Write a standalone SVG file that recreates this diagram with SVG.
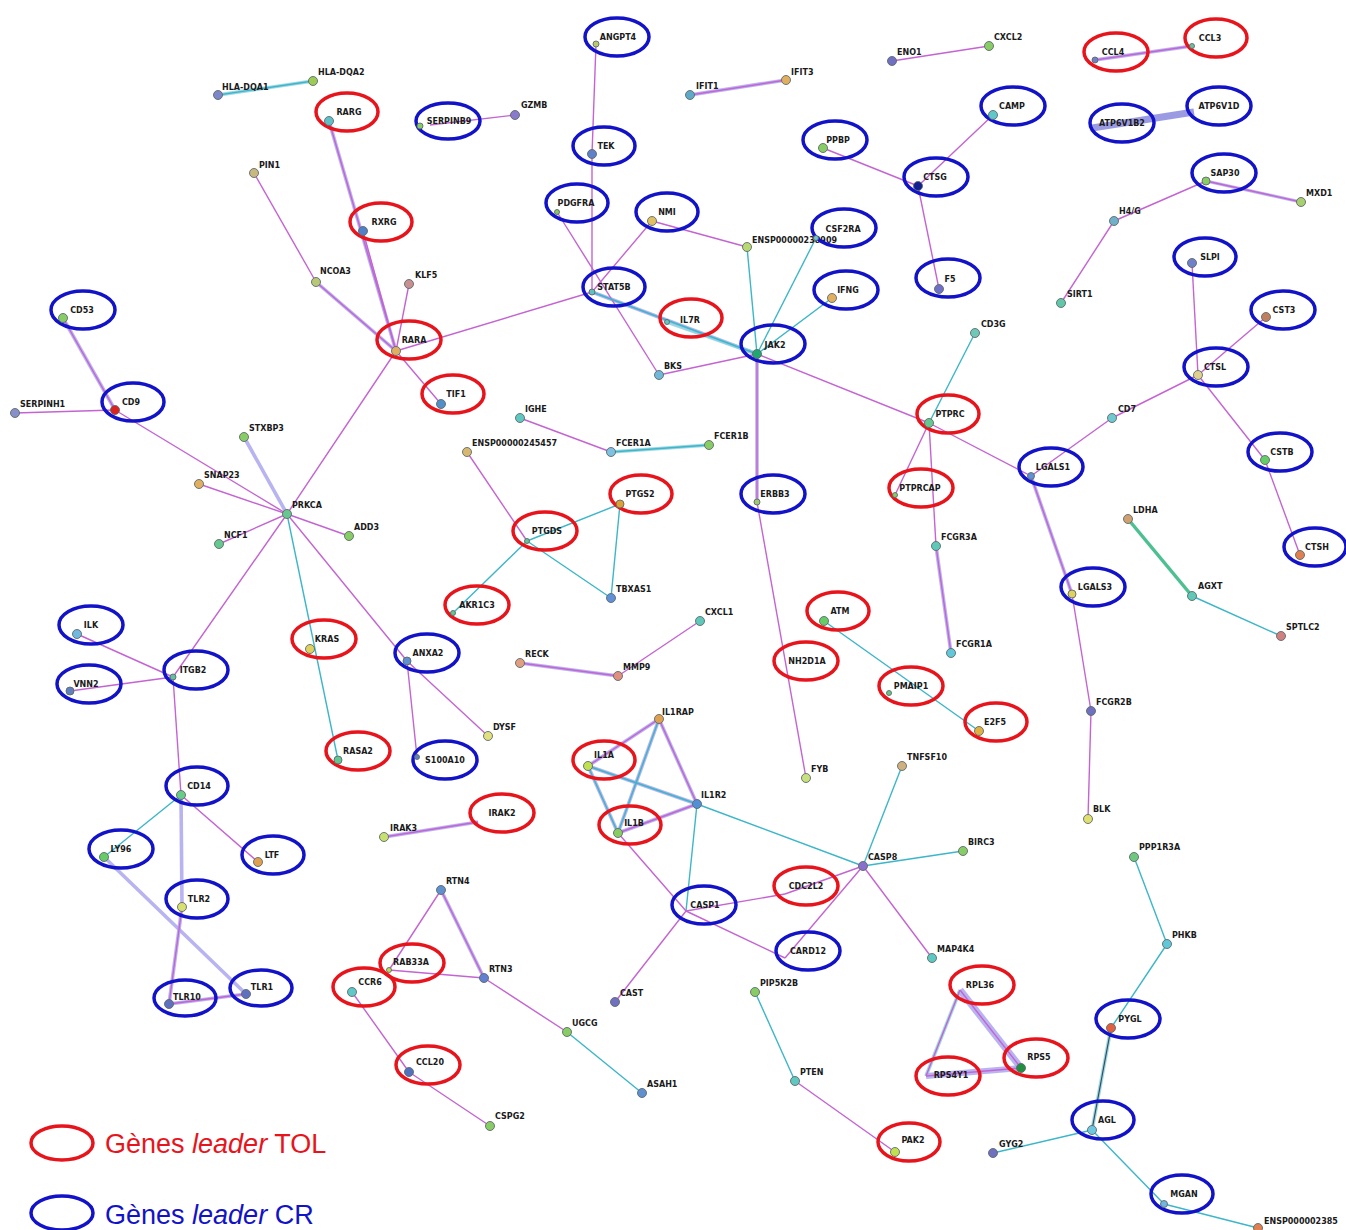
<svg xmlns="http://www.w3.org/2000/svg" width="1346" height="1230" viewBox="0 0 1346 1230">
<style>
  .m{stroke:#c464d2;stroke-width:1.4;fill:none}
  .t{stroke:#3cb6c8;stroke-width:1.4;fill:none}
  .w{stroke:#aca6ee;stroke-width:3.6;fill:none;opacity:0.85}
  .wt{stroke:#8fd0e0;stroke-width:3.6;fill:none;opacity:0.85}
  .g{stroke:#4cc090;stroke-width:3.5;fill:none}
  .tol{fill:none;stroke:#e8141c;stroke-width:3.5}
  .cr{fill:none;stroke:#1212c8;stroke-width:3.5}
  .d{stroke:#5d6a6a;stroke-width:0.9}
  text{font-family:"DejaVu Sans","Liberation Sans",sans-serif;font-weight:bold;font-size:8px;fill:#1a1a1a}
  .c{text-anchor:middle}
  .leg{font-family:"Liberation Sans",Arial,sans-serif;font-weight:normal;font-size:27px}
</style>
<rect width="1346" height="1230" fill="#ffffff"/>

<g id="connectors">
  <!-- wide backing strokes for multi-evidence links -->
  <line class="wt" x1="218" y1="95" x2="313" y2="81"/>
  <line class="w" x1="329" y1="121" x2="396" y2="351"/>
  <line class="w" x1="63" y1="318" x2="115" y2="410"/>
  <line class="w" x1="244" y1="437" x2="287" y2="514"/>
  <line class="w" x1="316" y1="282" x2="396" y2="351"/>
  <line class="w" x1="181" y1="795" x2="182" y2="907"/>
  <line class="w" x1="104" y1="857" x2="246" y2="994"/>
  <line class="w" x1="182" y1="907" x2="169" y2="1004"/>
  <line class="w" x1="169" y1="1004" x2="246" y2="994"/>
  <line class="w" x1="592" y1="292" x2="757" y2="354"/>
  <line class="wt" x1="667" y1="322" x2="757" y2="354"/>
  <line class="w" x1="757" y1="354" x2="757" y2="502"/>
  <line class="w" x1="1095" y1="60" x2="1192" y2="46"/>
  <line class="w" x1="1092" y1="128" x2="1194" y2="112" style="stroke-width:7;stroke:#8a8ade"/>
  <line class="w" x1="690" y1="95" x2="786" y2="80"/>
  <line class="w" x1="1206" y1="181" x2="1301" y2="202" style="stroke-width:3"/>
  <line class="w" x1="936" y1="546" x2="951" y2="653"/>
  <line class="w" x1="1031" y1="476" x2="1072" y2="594"/>
  <line class="wt" x1="611" y1="452" x2="709" y2="445"/>
  <line class="w" x1="520" y1="663" x2="618" y2="676"/>
  <line class="w" x1="384" y1="837" x2="478" y2="822"/>
  <line class="w" x1="441" y1="890" x2="484" y2="978"/>
  <line class="w" x1="659" y1="719" x2="588" y2="766"/>
  <line class="w" x1="659" y1="719" x2="618" y2="833"/>
  <line class="w" x1="659" y1="719" x2="697" y2="804"/>
  <line class="w" x1="588" y1="766" x2="697" y2="804"/>
  <line class="w" x1="588" y1="766" x2="618" y2="833"/>
  <line class="w" x1="618" y1="833" x2="697" y2="804"/>
  <line class="w" x1="960" y1="990" x2="1021" y2="1068" style="stroke-width:7"/>
  <line class="wt" x1="960" y1="990" x2="926" y2="1076"/>
  <line class="w" x1="926" y1="1076" x2="1021" y2="1068" style="stroke-width:6"/>
  <line class="wt" x1="1111" y1="1028" x2="1092" y2="1130"/>

  <!-- single links -->
  <line class="t" x1="218" y1="95" x2="313" y2="81"/>
  <line class="m" x1="430" y1="125" x2="515" y2="115"/>
  <line class="m" x1="329" y1="121" x2="396" y2="351"/>
  <line class="m" x1="363" y1="231" x2="396" y2="351"/>
  <line class="m" x1="254" y1="173" x2="316" y2="282"/>
  <line class="m" x1="316" y1="282" x2="396" y2="351"/>
  <line class="m" x1="409" y1="284" x2="396" y2="351"/>
  <line class="m" x1="396" y1="351" x2="441" y2="404"/>
  <line class="m" x1="396" y1="351" x2="592" y2="292"/>
  <line class="m" x1="396" y1="351" x2="287" y2="514"/>
  <line class="m" x1="63" y1="318" x2="115" y2="410"/>
  <line class="m" x1="15" y1="413" x2="115" y2="410"/>
  <line class="m" x1="115" y1="410" x2="287" y2="514"/>
  <line class="m" x1="199" y1="484" x2="287" y2="514"/>
  <line class="m" x1="219" y1="544" x2="287" y2="514"/>
  <line class="m" x1="349" y1="536" x2="287" y2="514"/>
  <line class="m" x1="287" y1="514" x2="173" y2="677"/>
  <line class="t" x1="287" y1="514" x2="338" y2="760"/>
  <line class="m" x1="287" y1="514" x2="407" y2="661"/>
  <line class="m" x1="77" y1="634" x2="173" y2="677"/>
  <line class="m" x1="70" y1="691" x2="173" y2="677"/>
  <line class="m" x1="173" y1="677" x2="181" y2="795"/>
  <line class="t" x1="181" y1="795" x2="104" y2="857"/>
  <line class="m" x1="181" y1="795" x2="258" y2="862"/>
  <line class="m" x1="182" y1="907" x2="169" y2="1004"/>
  <line class="m" x1="169" y1="1004" x2="246" y2="994"/>
  <line class="m" x1="407" y1="661" x2="417" y2="757"/>
  <line class="m" x1="407" y1="661" x2="488" y2="736"/>
  <line class="m" x1="596" y1="44" x2="592" y2="154"/>
  <line class="m" x1="592" y1="154" x2="592" y2="292"/>
  <line class="m" x1="557" y1="212" x2="659" y2="375"/>
  <line class="m" x1="652" y1="221" x2="592" y2="292"/>
  <line class="m" x1="652" y1="221" x2="747" y2="247"/>
  <line class="t" x1="592" y1="292" x2="757" y2="354"/>
  <line class="m" x1="659" y1="375" x2="757" y2="354"/>
  <line class="t" x1="747" y1="247" x2="757" y2="354"/>
  <line class="t" x1="816" y1="238" x2="757" y2="354"/>
  <line class="t" x1="832" y1="298" x2="757" y2="354"/>
  <line class="m" x1="757" y1="354" x2="929" y2="423"/>
  <line class="m" x1="757" y1="354" x2="757" y2="502"/>
  <line class="m" x1="757" y1="502" x2="806" y2="778"/>
  <line class="m" x1="690" y1="95" x2="786" y2="80"/>
  <line class="m" x1="892" y1="61" x2="989" y2="46"/>
  <line class="m" x1="823" y1="148" x2="918" y2="186"/>
  <line class="m" x1="993" y1="115" x2="918" y2="186"/>
  <line class="m" x1="918" y1="186" x2="939" y2="289"/>
  <line class="m" x1="1095" y1="60" x2="1192" y2="46"/>
  <line class="m" x1="1206" y1="181" x2="1301" y2="202"/>
  <line class="m" x1="1206" y1="181" x2="1114" y2="221"/>
  <line class="m" x1="1114" y1="221" x2="1061" y2="303"/>
  <line class="m" x1="1192" y1="263" x2="1198" y2="375"/>
  <line class="m" x1="1266" y1="317" x2="1198" y2="375"/>
  <line class="m" x1="1198" y1="375" x2="1112" y2="418"/>
  <line class="m" x1="1112" y1="418" x2="1031" y2="476"/>
  <line class="m" x1="1198" y1="375" x2="1265" y2="460"/>
  <line class="m" x1="1265" y1="460" x2="1300" y2="555"/>
  <line class="t" x1="975" y1="333" x2="929" y2="423"/>
  <line class="m" x1="929" y1="423" x2="895" y2="495"/>
  <line class="m" x1="929" y1="423" x2="936" y2="546"/>
  <line class="m" x1="936" y1="546" x2="951" y2="653"/>
  <line class="m" x1="929" y1="423" x2="1031" y2="476"/>
  <line class="m" x1="1031" y1="476" x2="1072" y2="594"/>
  <line class="m" x1="1072" y1="594" x2="1091" y2="711"/>
  <line class="m" x1="1091" y1="711" x2="1088" y2="819"/>
  <line class="g" x1="1128" y1="519" x2="1192" y2="596"/>
  <line class="t" x1="1192" y1="596" x2="1281" y2="636"/>
  <line class="m" x1="520" y1="418" x2="611" y2="452"/>
  <line class="t" x1="611" y1="452" x2="709" y2="445"/>
  <line class="m" x1="467" y1="452" x2="527" y2="541"/>
  <line class="t" x1="527" y1="541" x2="620" y2="504"/>
  <line class="t" x1="620" y1="504" x2="611" y2="598"/>
  <line class="t" x1="527" y1="541" x2="611" y2="598"/>
  <line class="t" x1="527" y1="541" x2="453" y2="613"/>
  <line class="m" x1="520" y1="663" x2="618" y2="676"/>
  <line class="m" x1="618" y1="676" x2="700" y2="621"/>
  <line class="t" x1="824" y1="621" x2="979" y2="731"/>
  <line class="t" x1="902" y1="766" x2="863" y2="866"/>
  <line class="m" x1="659" y1="719" x2="588" y2="766"/>
  <line class="t" x1="659" y1="719" x2="618" y2="833"/>
  <line class="m" x1="659" y1="719" x2="697" y2="804"/>
  <line class="t" x1="588" y1="766" x2="697" y2="804"/>
  <line class="t" x1="588" y1="766" x2="618" y2="833"/>
  <line class="m" x1="618" y1="833" x2="697" y2="804"/>
  <line class="t" x1="697" y1="804" x2="863" y2="866"/>
  <line class="t" x1="697" y1="804" x2="686" y2="911"/>
  <line class="m" x1="618" y1="833" x2="686" y2="911"/>
  <line class="m" x1="686" y1="911" x2="785" y2="894"/>
  <line class="m" x1="785" y1="894" x2="863" y2="866"/>
  <line class="m" x1="863" y1="866" x2="785" y2="958"/>
  <line class="m" x1="686" y1="911" x2="785" y2="958"/>
  <line class="t" x1="863" y1="866" x2="963" y2="851"/>
  <line class="m" x1="863" y1="866" x2="932" y2="958"/>
  <line class="m" x1="686" y1="911" x2="615" y2="1002"/>
  <line class="t" x1="755" y1="992" x2="795" y2="1081"/>
  <line class="m" x1="795" y1="1081" x2="895" y2="1152"/>
  <line class="m" x1="960" y1="990" x2="926" y2="1076"/>
  <line class="m" x1="960" y1="990" x2="1021" y2="1068"/>
  <line class="m" x1="926" y1="1076" x2="1021" y2="1068"/>
  <line class="t" x1="1134" y1="857" x2="1167" y2="944"/>
  <line class="t" x1="1167" y1="944" x2="1111" y2="1028"/>
  <line stroke="#305060" stroke-width="1.2" x1="1111" y1="1028" x2="1092" y2="1130"/>
  <line class="t" x1="1092" y1="1130" x2="993" y2="1153"/>
  <line class="t" x1="1092" y1="1130" x2="1164" y2="1204"/>
  <line class="t" x1="1164" y1="1204" x2="1258" y2="1228"/>
  <line class="m" x1="384" y1="837" x2="478" y2="822"/>
  <line class="m" x1="441" y1="890" x2="389" y2="970"/>
  <line class="m" x1="441" y1="890" x2="484" y2="978"/>
  <line class="m" x1="389" y1="970" x2="484" y2="978"/>
  <line class="m" x1="484" y1="978" x2="567" y2="1032"/>
  <line class="t" x1="567" y1="1032" x2="642" y2="1093"/>
  <line class="m" x1="352" y1="992" x2="409" y2="1072"/>
  <line class="m" x1="409" y1="1072" x2="490" y2="1126"/>
</g>

<!-- plain gene nodes -->
<g id="n-HLA-DQA1"><circle class="d" cx="218" cy="95" r="4.5" fill="#7c86c8"/><text x="222" y="90">HLA-DQA1</text></g>
<g id="n-HLA-DQA2"><circle class="d" cx="313" cy="81" r="4.5" fill="#9ccc55"/><text x="318" y="75">HLA-DQA2</text></g>
<g id="n-GZMB"><circle class="d" cx="515" cy="115" r="4.5" fill="#8a7acc"/><text x="521" y="108">GZMB</text></g>
<g id="n-PIN1"><circle class="d" cx="254" cy="173" r="4.5" fill="#c8b880"/><text x="259" y="168">PIN1</text></g>
<g id="n-NCOA3"><circle class="d" cx="316" cy="282" r="4.5" fill="#b8c878"/><text x="320" y="274">NCOA3</text></g>
<g id="n-KLF5"><circle class="d" cx="409" cy="284" r="4.5" fill="#c89090"/><text x="415" y="278">KLF5</text></g>
<g id="n-SERPINH1"><circle class="d" cx="15" cy="413" r="4.5" fill="#8890c8"/><text x="20" y="407">SERPINH1</text></g>
<g id="n-STXBP3"><circle class="d" cx="244" cy="437" r="4.5" fill="#88cc66"/><text x="249" y="431">STXBP3</text></g>
<g id="n-SNAP23"><circle class="d" cx="199" cy="484" r="4.5" fill="#e0b060"/><text x="204" y="478">SNAP23</text></g>
<g id="n-PRKCA"><circle class="d" cx="287" cy="514" r="4.5" fill="#66c890"/><text x="292" y="508">PRKCA</text></g>
<g id="n-NCF1"><circle class="d" cx="219" cy="544" r="4.5" fill="#66c890"/><text x="224" y="538">NCF1</text></g>
<g id="n-ADD3"><circle class="d" cx="349" cy="536" r="4.5" fill="#88cc66"/><text x="354" y="530">ADD3</text></g>
<g id="n-DYSF"><circle class="d" cx="488" cy="736" r="4.5" fill="#e0e080"/><text x="493" y="730">DYSF</text></g>
<g id="n-IGHE"><circle class="d" cx="520" cy="418" r="4.5" fill="#60c8c0"/><text x="525" y="412">IGHE</text></g>
<g id="n-ENSP00000245457"><circle class="d" cx="467" cy="452" r="4.5" fill="#d8b870"/><text x="472" y="446">ENSP00000245457</text></g>
<g id="n-FCER1A"><circle class="d" cx="611" cy="452" r="4.5" fill="#80c0e0"/><text x="616" y="446">FCER1A</text></g>
<g id="n-FCER1B"><circle class="d" cx="709" cy="445" r="4.5" fill="#88cc66"/><text x="714" y="439">FCER1B</text></g>
<g id="n-TBXAS1"><circle class="d" cx="611" cy="598" r="4.5" fill="#6090d8"/><text x="616" y="592">TBXAS1</text></g>
<g id="n-RECK"><circle class="d" cx="520" cy="663" r="4.5" fill="#e0a080"/><text x="525" y="657">RECK</text></g>
<g id="n-MMP9"><circle class="d" cx="618" cy="676" r="4.5" fill="#e09080"/><text x="623" y="670">MMP9</text></g>
<g id="n-CXCL1"><circle class="d" cx="700" cy="621" r="4.5" fill="#60c8b8"/><text x="705" y="615">CXCL1</text></g>
<g id="n-IL1RAP"><circle class="d" cx="659" cy="719" r="4.5" fill="#e0a050"/><text x="662" y="715">IL1RAP</text></g>
<g id="n-IL1R2"><circle class="d" cx="697" cy="804" r="4.5" fill="#5090d8"/><text x="701" y="798">IL1R2</text></g>
<g id="n-FYB"><circle class="d" cx="806" cy="778" r="4.5" fill="#c8e080"/><text x="811" y="772">FYB</text></g>
<g id="n-TNFSF10"><circle class="d" cx="902" cy="766" r="4.5" fill="#d0b080"/><text x="907" y="760">TNFSF10</text></g>
<g id="n-CASP8"><circle class="d" cx="863" cy="866" r="4.5" fill="#8870cc"/><text x="868" y="860">CASP8</text></g>
<g id="n-BIRC3"><circle class="d" cx="963" cy="851" r="4.5" fill="#88cc66"/><text x="968" y="845">BIRC3</text></g>
<g id="n-MAP4K4"><circle class="d" cx="932" cy="958" r="4.5" fill="#60c8c0"/><text x="937" y="952">MAP4K4</text></g>
<g id="n-CAST"><circle class="d" cx="615" cy="1002" r="4.5" fill="#7070c0"/><text x="620" y="996">CAST</text></g>
<g id="n-PIP5K2B"><circle class="d" cx="755" cy="992" r="4.5" fill="#88cc66"/><text x="760" y="986">PIP5K2B</text></g>
<g id="n-PTEN"><circle class="d" cx="795" cy="1081" r="4.5" fill="#60c8c0"/><text x="800" y="1075">PTEN</text></g>
<g id="n-IRAK3"><circle class="d" cx="384" cy="837" r="4.5" fill="#c8e070"/><text x="390" y="831">IRAK3</text></g>
<g id="n-RTN4"><circle class="d" cx="441" cy="890" r="4.5" fill="#6090d0"/><text x="446" y="884">RTN4</text></g>
<g id="n-RTN3"><circle class="d" cx="484" cy="978" r="4.5" fill="#6080d0"/><text x="489" y="972">RTN3</text></g>
<g id="n-UGCG"><circle class="d" cx="567" cy="1032" r="4.5" fill="#88cc66"/><text x="572" y="1026">UGCG</text></g>
<g id="n-ASAH1"><circle class="d" cx="642" cy="1093" r="4.5" fill="#6090d0"/><text x="647" y="1087">ASAH1</text></g>
<g id="n-CSPG2"><circle class="d" cx="490" cy="1126" r="4.5" fill="#88cc66"/><text x="495" y="1119">CSPG2</text></g>
<g id="n-BKS"><circle class="d" cx="659" cy="375" r="4.5" fill="#70b8d8"/><text x="664" y="369">BKS</text></g>
<g id="n-ENSP00000238909"><circle class="d" cx="747" cy="247" r="4.5" fill="#b8d870"/><text x="752" y="243">ENSP00000238909</text></g>
<g id="n-IFIT1"><circle class="d" cx="690" cy="95" r="4.5" fill="#60a8c8"/><text x="696" y="89">IFIT1</text></g>
<g id="n-IFIT3"><circle class="d" cx="786" cy="80" r="4.5" fill="#e0b060"/><text x="791" y="75">IFIT3</text></g>
<g id="n-ENO1"><circle class="d" cx="892" cy="61" r="4.5" fill="#7070c0"/><text x="897" y="55">ENO1</text></g>
<g id="n-CXCL2"><circle class="d" cx="989" cy="46" r="4.5" fill="#88cc66"/><text x="994" y="40">CXCL2</text></g>
<g id="n-MXD1"><circle class="d" cx="1301" cy="202" r="4.5" fill="#a8d070"/><text x="1306" y="196">MXD1</text></g>
<g id="n-H4G"><circle class="d" cx="1114" cy="221" r="4.5" fill="#70b0c8"/><text x="1119" y="214">H4/G</text></g>
<g id="n-SIRT1"><circle class="d" cx="1061" cy="303" r="4.5" fill="#60c8a8"/><text x="1067" y="297">SIRT1</text></g>
<g id="n-CD7"><circle class="d" cx="1112" cy="418" r="4.5" fill="#70c8d0"/><text x="1118" y="412">CD7</text></g>
<g id="n-CD3G"><circle class="d" cx="975" cy="333" r="4.5" fill="#70c8b8"/><text x="981" y="327">CD3G</text></g>
<g id="n-FCGR3A"><circle class="d" cx="936" cy="546" r="4.5" fill="#60c8b8"/><text x="941" y="540">FCGR3A</text></g>
<g id="n-FCGR1A"><circle class="d" cx="951" cy="653" r="4.5" fill="#60c8d8"/><text x="956" y="647">FCGR1A</text></g>
<g id="n-LDHA"><circle class="d" cx="1128" cy="519" r="4.5" fill="#d0a070"/><text x="1133" y="513">LDHA</text></g>
<g id="n-AGXT"><circle class="d" cx="1192" cy="596" r="4.5" fill="#60c8b8"/><text x="1198" y="589">AGXT</text></g>
<g id="n-SPTLC2"><circle class="d" cx="1281" cy="636" r="4.5" fill="#d08080"/><text x="1286" y="630">SPTLC2</text></g>
<g id="n-FCGR2B"><circle class="d" cx="1091" cy="711" r="4.5" fill="#7070c0"/><text x="1096" y="705">FCGR2B</text></g>
<g id="n-BLK"><circle class="d" cx="1088" cy="819" r="4.5" fill="#e0e070"/><text x="1093" y="812">BLK</text></g>
<g id="n-PPP1R3A"><circle class="d" cx="1134" cy="857" r="4.5" fill="#70c880"/><text x="1139" y="850">PPP1R3A</text></g>
<g id="n-PHKB"><circle class="d" cx="1167" cy="944" r="4.5" fill="#60c8d8"/><text x="1172" y="938">PHKB</text></g>
<g id="n-GYG2"><circle class="d" cx="993" cy="1153" r="4.5" fill="#7070c0"/><text x="999" y="1147">GYG2</text></g>
<g id="n-ENSP0000023859"><circle class="d" cx="1258" cy="1228" r="4.5" fill="#e08050"/><text x="1264" y="1224">ENSP000002385</text></g>

<!-- leader genes, circled -->
<g id="n-RARG"><ellipse class="tol" cx="347" cy="112" rx="31" ry="19"/><circle class="d" cx="329" cy="121" r="4.5" fill="#60c0c8"/><text class="c" x="349" y="115">RARG</text></g>
<g id="n-SERPINB9"><ellipse class="cr" cx="448" cy="121" rx="32" ry="18"/><circle class="d" cx="420" cy="126" r="3" fill="#88cc66"/><text class="c" x="449" y="124">SERPINB9</text></g>
<g id="n-RXRG"><ellipse class="tol" cx="381" cy="222" rx="31" ry="19"/><circle class="d" cx="363" cy="231" r="4.5" fill="#5080c8"/><text class="c" x="384" y="225">RXRG</text></g>
<g id="n-RARA"><ellipse class="tol" cx="409" cy="340" rx="32" ry="19"/><circle class="d" cx="396" cy="351" r="4.5" fill="#e0b060"/><text class="c" x="414" y="343">RARA</text></g>
<g id="n-TIF1"><ellipse class="tol" cx="453" cy="394" rx="31" ry="19"/><circle class="d" cx="441" cy="404" r="4.5" fill="#5090c8"/><text class="c" x="456" y="397">TIF1</text></g>
<g id="n-CD53"><ellipse class="cr" cx="83" cy="310" rx="32" ry="19"/><circle class="d" cx="63" cy="318" r="4.5" fill="#88cc66"/><text class="c" x="82" y="313">CD53</text></g>
<g id="n-CD9"><ellipse class="cr" cx="133" cy="402" rx="31" ry="19"/><circle class="d" cx="115" cy="410" r="4.5" fill="#dd2020"/><text class="c" x="131" y="405">CD9</text></g>
<g id="n-ILK"><ellipse class="cr" cx="91" cy="625" rx="32" ry="19"/><circle class="d" cx="77" cy="634" r="4.5" fill="#70b8e0"/><text class="c" x="91" y="628">ILK</text></g>
<g id="n-VNN2"><ellipse class="cr" cx="89" cy="684" rx="32" ry="19"/><circle class="d" cx="70" cy="691" r="4" fill="#6080c0"/><text class="c" x="86" y="687">VNN2</text></g>
<g id="n-ITGB2"><ellipse class="cr" cx="196" cy="670" rx="32" ry="19"/><circle class="d" cx="173" cy="677" r="3" fill="#60c0a0"/><text class="c" x="193" y="673">ITGB2</text></g>
<g id="n-KRAS"><ellipse class="tol" cx="324" cy="639" rx="32" ry="19"/><circle class="d" cx="310" cy="649" r="4.5" fill="#e0d060"/><text class="c" x="327" y="642">KRAS</text></g>
<g id="n-RASA2"><ellipse class="tol" cx="358" cy="751" rx="32" ry="19"/><circle class="d" cx="338" cy="760" r="4" fill="#60c890"/><text class="c" x="358" y="754">RASA2</text></g>
<g id="n-ANXA2"><ellipse class="cr" cx="427" cy="653" rx="32" ry="19"/><circle class="d" cx="407" cy="661" r="4" fill="#6090d0"/><text class="c" x="428" y="656">ANXA2</text></g>
<g id="n-S100A10"><ellipse class="cr" cx="445" cy="760" rx="32" ry="19"/><circle class="d" cx="417" cy="757" r="2.5" fill="#6080c0"/><text class="c" x="445" y="763">S100A10</text></g>
<g id="n-CD14"><ellipse class="cr" cx="197" cy="786" rx="31" ry="19"/><circle class="d" cx="181" cy="795" r="4.5" fill="#66cc88"/><text class="c" x="199" y="789">CD14</text></g>
<g id="n-LY96"><ellipse class="cr" cx="121" cy="849" rx="32" ry="19"/><circle class="d" cx="104" cy="857" r="4.5" fill="#66cc66"/><text class="c" x="121" y="852">LY96</text></g>
<g id="n-LTF"><ellipse class="cr" cx="273" cy="855" rx="31" ry="19"/><circle class="d" cx="258" cy="862" r="4.5" fill="#e0a050"/><text class="c" x="272" y="858">LTF</text></g>
<g id="n-TLR2"><ellipse class="cr" cx="197" cy="899" rx="31" ry="19"/><circle class="d" cx="182" cy="907" r="4.5" fill="#d8e070"/><text class="c" x="199" y="902">TLR2</text></g>
<g id="n-TLR10"><ellipse class="cr" cx="185" cy="998" rx="31" ry="18"/><circle class="d" cx="169" cy="1004" r="4.5" fill="#6070c0"/><text class="c" x="187" y="1000">TLR10</text></g>
<g id="n-TLR1"><ellipse class="cr" cx="261" cy="988" rx="31" ry="18"/><circle class="d" cx="246" cy="994" r="4.5" fill="#6070c0"/><text class="c" x="262" y="990">TLR1</text></g>
<g id="n-ANGPT4"><ellipse class="cr" cx="617" cy="37" rx="32" ry="19"/><circle class="d" cx="596" cy="44" r="3" fill="#b8c870"/><text class="c" x="618" y="40">ANGPT4</text></g>
<g id="n-TEK"><ellipse class="cr" cx="604" cy="146" rx="31" ry="19"/><circle class="d" cx="592" cy="154" r="4.5" fill="#6080c8"/><text class="c" x="606" y="149">TEK</text></g>
<g id="n-PDGFRA"><ellipse class="cr" cx="577" cy="203" rx="31" ry="19"/><circle class="d" cx="557" cy="212" r="2.5" fill="#88cc66"/><text class="c" x="576" y="206">PDGFRA</text></g>
<g id="n-NMI"><ellipse class="cr" cx="667" cy="212" rx="31" ry="19"/><circle class="d" cx="652" cy="221" r="4.5" fill="#e0c060"/><text class="c" x="667" y="215">NMI</text></g>
<g id="n-STAT5B"><ellipse class="cr" cx="614" cy="287" rx="31" ry="19"/><circle class="d" cx="592" cy="292" r="3" fill="#60c0c0"/><text class="c" x="614" y="290">STAT5B</text></g>
<g id="n-IL7R"><ellipse class="tol" cx="691" cy="318" rx="31" ry="19"/><circle class="d" cx="667" cy="322" r="2.5" fill="#60c8c0"/><text class="c" x="690" y="323">IL7R</text></g>
<g id="n-JAK2"><ellipse class="cr" cx="773" cy="344" rx="32" ry="19"/><circle class="d" cx="757" cy="354" r="4.5" fill="#20a870"/><text class="c" x="775" y="348">JAK2</text></g>
<g id="n-CSF2RA"><ellipse class="cr" cx="844" cy="228" rx="32" ry="19"/><circle class="d" cx="816" cy="238" r="2.5" fill="#70c8d0"/><text class="c" x="843" y="232">CSF2RA</text></g>
<g id="n-IFNG"><ellipse class="cr" cx="846" cy="290" rx="32" ry="19"/><circle class="d" cx="832" cy="298" r="4.5" fill="#e0b060"/><text class="c" x="848" y="293">IFNG</text></g>
<g id="n-PPBP"><ellipse class="cr" cx="835" cy="140" rx="32" ry="19"/><circle class="d" cx="823" cy="148" r="4.5" fill="#88cc66"/><text class="c" x="838" y="143">PPBP</text></g>
<g id="n-CTSG"><ellipse class="cr" cx="936" cy="177" rx="32" ry="19"/><circle class="d" cx="918" cy="186" r="4.5" fill="#102090"/><text class="c" x="935" y="180">CTSG</text></g>
<g id="n-CAMP"><ellipse class="cr" cx="1013" cy="106" rx="32" ry="19"/><circle class="d" cx="993" cy="115" r="4.5" fill="#60c8c8"/><text class="c" x="1012" y="109">CAMP</text></g>
<g id="n-F5"><ellipse class="cr" cx="948" cy="278" rx="32" ry="19"/><circle class="d" cx="939" cy="289" r="4.5" fill="#7070c8"/><text class="c" x="950" y="282">F5</text></g>
<g id="n-CCL4"><ellipse class="tol" cx="1116" cy="52" rx="32" ry="19"/><circle class="d" cx="1095" cy="60" r="3" fill="#7080c8"/><text class="c" x="1113" y="55">CCL4</text></g>
<g id="n-CCL3"><ellipse class="tol" cx="1216" cy="38" rx="31" ry="19"/><circle class="d" cx="1192" cy="46" r="2.5" fill="#70c0a0"/><text class="c" x="1210" y="41">CCL3</text></g>
<g id="n-ATP6V1B2"><ellipse class="cr" cx="1122" cy="123" rx="32" ry="19"/><text class="c" x="1122" y="126">ATP6V1B2</text></g>
<g id="n-ATP6V1D"><ellipse class="cr" cx="1219" cy="106" rx="32" ry="19"/><text class="c" x="1219" y="109">ATP6V1D</text></g>
<g id="n-SAP30"><ellipse class="cr" cx="1224" cy="173" rx="32" ry="19"/><circle class="d" cx="1206" cy="181" r="4" fill="#88cc66"/><text class="c" x="1225" y="176">SAP30</text></g>
<g id="n-SLPI"><ellipse class="cr" cx="1205" cy="257" rx="31" ry="19"/><circle class="d" cx="1192" cy="263" r="4.5" fill="#7080c8"/><text class="c" x="1210" y="260">SLPI</text></g>
<g id="n-CST3"><ellipse class="cr" cx="1283" cy="310" rx="32" ry="19"/><circle class="d" cx="1266" cy="317" r="4.5" fill="#c08060"/><text class="c" x="1284" y="313">CST3</text></g>
<g id="n-CTSL"><ellipse class="cr" cx="1216" cy="367" rx="32" ry="19"/><circle class="d" cx="1198" cy="375" r="4.5" fill="#e0d090"/><text class="c" x="1215" y="370">CTSL</text></g>
<g id="n-PTPRC"><ellipse class="tol" cx="948" cy="414" rx="31" ry="19"/><circle class="d" cx="929" cy="423" r="4.5" fill="#66c890"/><text class="c" x="950" y="417">PTPRC</text></g>
<g id="n-PTPRCAP"><ellipse class="tol" cx="921" cy="488" rx="32" ry="19"/><circle class="d" cx="895" cy="495" r="2.5" fill="#88cc66"/><text class="c" x="920" y="491">PTPRCAP</text></g>
<g id="n-LGALS1"><ellipse class="cr" cx="1051" cy="467" rx="32" ry="19"/><circle class="d" cx="1031" cy="476" r="3.5" fill="#6090d8"/><text class="c" x="1053" y="470">LGALS1</text></g>
<g id="n-LGALS3"><ellipse class="cr" cx="1093" cy="587" rx="32" ry="19"/><circle class="d" cx="1072" cy="594" r="4" fill="#e0d060"/><text class="c" x="1095" y="590">LGALS3</text></g>
<g id="n-CSTB"><ellipse class="cr" cx="1280" cy="452" rx="32" ry="19"/><circle class="d" cx="1265" cy="460" r="4.5" fill="#66cc66"/><text class="c" x="1282" y="455">CSTB</text></g>
<g id="n-CTSH"><ellipse class="cr" cx="1315" cy="547" rx="31" ry="19"/><circle class="d" cx="1300" cy="555" r="4.5" fill="#e08050"/><text class="c" x="1317" y="550">CTSH</text></g>
<g id="n-ERBB3"><ellipse class="cr" cx="773" cy="494" rx="32" ry="19"/><circle class="d" cx="757" cy="502" r="3" fill="#a0c870"/><text class="c" x="775" y="497">ERBB3</text></g>
<g id="n-PTGS2"><ellipse class="tol" cx="641" cy="494" rx="31" ry="19"/><circle class="d" cx="620" cy="504" r="4" fill="#e0a030"/><text class="c" x="640" y="497">PTGS2</text></g>
<g id="n-PTGDS"><ellipse class="tol" cx="545" cy="531" rx="32" ry="19"/><circle class="d" cx="527" cy="541" r="2.5" fill="#60c890"/><text class="c" x="547" y="534">PTGDS</text></g>
<g id="n-AKR1C3"><ellipse class="tol" cx="477" cy="605" rx="32" ry="19"/><circle class="d" cx="453" cy="613" r="2.5" fill="#60c890"/><text class="c" x="477" y="608">AKR1C3</text></g>
<g id="n-ATM"><ellipse class="tol" cx="838" cy="611" rx="31" ry="19"/><circle class="d" cx="824" cy="621" r="4.5" fill="#66cc66"/><text class="c" x="840" y="614">ATM</text></g>
<g id="n-NH2D1A"><ellipse class="tol" cx="806" cy="661" rx="32" ry="19"/><text class="c" x="807" y="664">NH2D1A</text></g>
<g id="n-PMAIP1"><ellipse class="tol" cx="911" cy="686" rx="32" ry="19"/><circle class="d" cx="889" cy="693" r="2.5" fill="#66c880"/><text class="c" x="911" y="689">PMAIP1</text></g>
<g id="n-E2F5"><ellipse class="tol" cx="996" cy="722" rx="31" ry="19"/><circle class="d" cx="979" cy="731" r="4.5" fill="#e0b040"/><text class="c" x="995" y="725">E2F5</text></g>
<g id="n-IL1A"><ellipse class="tol" cx="604" cy="760" rx="31" ry="19"/><circle class="d" cx="588" cy="766" r="4.5" fill="#c0e050"/><text class="c" x="604" y="758">IL1A</text></g>
<g id="n-IL1B"><ellipse class="tol" cx="630" cy="825" rx="31" ry="19"/><circle class="d" cx="618" cy="833" r="4.5" fill="#88cc66"/><text class="c" x="634" y="826">IL1B</text></g>
<g id="n-CDC2L2"><ellipse class="tol" cx="806" cy="886" rx="32" ry="19"/><text class="c" x="806" y="889">CDC2L2</text></g>
<g id="n-CASP1"><ellipse class="cr" cx="704" cy="905" rx="32" ry="19"/><text class="c" x="705" y="908">CASP1</text></g>
<g id="n-CARD12"><ellipse class="cr" cx="808" cy="951" rx="32" ry="19"/><text class="c" x="808" y="954">CARD12</text></g>
<g id="n-RPL36"><ellipse class="tol" cx="982" cy="985" rx="32" ry="19"/><text class="c" x="980" y="988">RPL36</text></g>
<g id="n-RPS5"><ellipse class="tol" cx="1036" cy="1058" rx="32" ry="19"/><circle class="d" cx="1021" cy="1068" r="4.5" fill="#209040"/><text class="c" x="1039" y="1060">RPS5</text></g>
<g id="n-RPS4Y1"><ellipse class="tol" cx="948" cy="1076" rx="32" ry="19"/><text class="c" x="951" y="1078">RPS4Y1</text></g>
<g id="n-PAK2"><ellipse class="tol" cx="909" cy="1142" rx="31" ry="19"/><circle class="d" cx="895" cy="1152" r="4.5" fill="#c0e050"/><text class="c" x="913" y="1143">PAK2</text></g>
<g id="n-PYGL"><ellipse class="cr" cx="1128" cy="1019" rx="32" ry="19"/><circle class="d" cx="1111" cy="1028" r="4.5" fill="#e06040"/><text class="c" x="1130" y="1022">PYGL</text></g>
<g id="n-AGL"><ellipse class="cr" cx="1103" cy="1120" rx="31" ry="19"/><circle class="d" cx="1092" cy="1130" r="4.5" fill="#70c8e0"/><text class="c" x="1107" y="1123">AGL</text></g>
<g id="n-MGAN"><ellipse class="cr" cx="1182" cy="1194" rx="31" ry="19"/><circle class="d" cx="1164" cy="1204" r="3.5" fill="#70b8e0"/><text class="c" x="1184" y="1197">MGAN</text></g>
<g id="n-IRAK2"><ellipse class="tol" cx="502" cy="813" rx="32" ry="19"/><text class="c" x="502" y="816">IRAK2</text></g>
<g id="n-RAB33A"><ellipse class="tol" cx="412" cy="963" rx="32" ry="19"/><circle class="d" cx="389" cy="970" r="2.5" fill="#c0e050"/><text class="c" x="411" y="965">RAB33A</text></g>
<g id="n-CCR6"><ellipse class="tol" cx="364" cy="987" rx="31" ry="19"/><circle class="d" cx="352" cy="992" r="4.5" fill="#60c8c8"/><text class="c" x="370" y="985">CCR6</text></g>
<g id="n-CCL20"><ellipse class="tol" cx="428" cy="1065" rx="32" ry="19"/><circle class="d" cx="409" cy="1072" r="4.5" fill="#5070c0"/><text class="c" x="430" y="1065">CCL20</text></g>

<!-- key -->
<g id="legend">
  <ellipse class="tol" cx="62" cy="1143" rx="31" ry="17"/>
  <text class="leg" x="105" y="1153" style="fill:#e8141c">Gènes <tspan font-style="italic">leader</tspan> TOL</text>
  <ellipse class="cr" cx="62" cy="1213" rx="31" ry="17"/>
  <text class="leg" x="105" y="1224" style="fill:#1212c8">Gènes <tspan font-style="italic">leader</tspan> CR</text>
</g>
</svg>
